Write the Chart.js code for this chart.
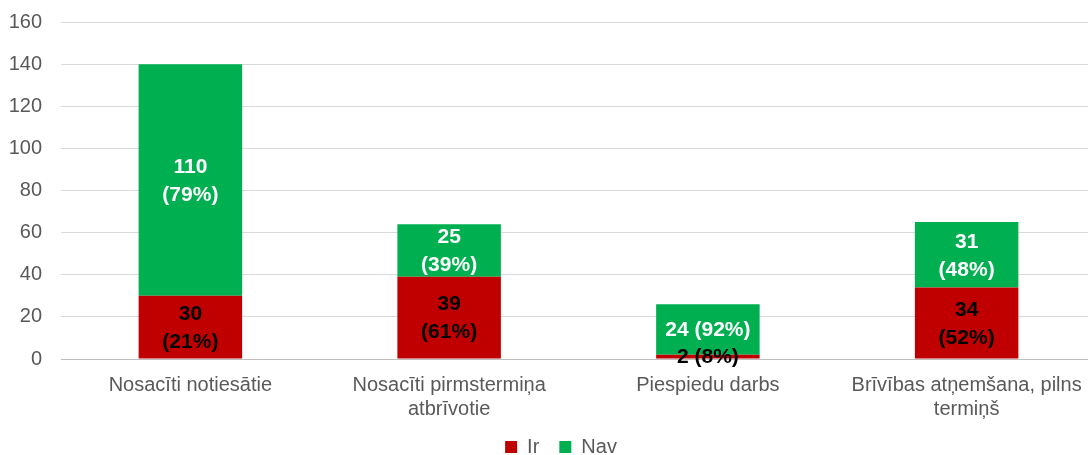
<!DOCTYPE html>
<html>
<head>
<meta charset="utf-8">
<script src="https://cdn.jsdelivr.net/npm/chart.js@4/dist/chart.umd.min.js"></script>
<style>
html,body{margin:0;padding:0;overflow:hidden;background:#fff;}
#wrap{width:1088px;height:455px;overflow:hidden;}
canvas{display:block;}
</style>
</head>
<body>
<div id="wrap"><canvas id="c" width="1120" height="455"></canvas></div>
<script>
const categories = [
  ["Nosacīti notiesātie"],
  ["Nosacīti pirmstermiņa", "atbrīvotie"],
  ["Piespiedu darbs"],
  ["Brīvības atņemšana, pilns", "termiņš"]
];
const seriesNames = ["Ir", "Nav"];
const irValues = [30, 39, 2, 34];
const navValues = [110, 25, 24, 31];
const yTicks = [0, 20, 40, 60, 80, 100, 120, 140, 160];
const wrapLabels = [true, true, false, true];

const RED = '#C00000', GREEN = '#00B050';
const FONT = "'Liberation Sans', Arial, sans-serif";

const totals = irValues.map((v, i) => v + navValues[i]);

const labelPlugin = {
  id: 'segLabels',
  afterDatasetsDraw(chart) {
    const ctx = chart.ctx;
    ctx.save();
    ctx.font = "bold 21px " + FONT;
    ctx.textAlign = 'center';
    ctx.textBaseline = 'middle';
    chart.data.datasets.forEach((ds, di) => {
      const meta = chart.getDatasetMeta(di);
      meta.data.forEach((el, i) => {
        const v = ds.data[i];
        const pct = Math.round(v / totals[i] * 100);
        const lines = wrapLabels[i] ? [String(v), '(' + pct + '%)'] : [v + ' (' + pct + '%)'];
        const cy = (el.y + el.base) / 2;
        const lh = 28;
        ctx.fillStyle = ds.labelColor;
        lines.forEach((t, k) => {
          ctx.fillText(t, el.x, cy + (k - (lines.length - 1) / 2) * lh + 1);
        });
      });
    });
    ctx.restore();
  }
};

// place the legend where the reference has it
const legendPlace = {
  id: 'legendPlace',
  afterLayout(chart) {
    const lg = chart.legend;
    if (!lg) return;
    const dx = 13;
    const dy = 417 - lg.top;
    lg.left += dx; lg.right += dx;
    lg.top += dy; lg.bottom += dy;
    if (lg.legendHitBoxes) lg.legendHitBoxes.forEach(h => { h.left += dx; h.top += dy; });
  }
};

new Chart(document.getElementById('c'), {
  type: 'bar',
  data: {
    labels: categories,
    datasets: [
      { label: seriesNames[0], data: irValues, backgroundColor: RED, labelColor: '#000000',
        barPercentage: 0.4, categoryPercentage: 1.0 },
      { label: seriesNames[1], data: navValues, backgroundColor: GREEN, labelColor: '#ffffff',
        barPercentage: 0.4, categoryPercentage: 1.0 }
    ]
  },
  options: {
    responsive: false,
    animation: false,
    devicePixelRatio: 1,
    layout: { padding: { top: 22, right: 24, left: 0, bottom: -30 } },
    plugins: {
      title: { display: false },
      tooltip: { enabled: false },
      legend: {
        position: 'bottom',
        labels: {
          boxWidth: 12, boxHeight: 12, padding: 20,
          color: '#595959',
          font: { family: FONT, size: 20 }
        }
      }
    },
    scales: {
      x: {
        stacked: true,
        grid: { display: false, drawTicks: false },
        border: { display: true, color: '#bfbfbf', width: 1 },
        ticks: { color: '#595959', font: { family: FONT, size: 20 }, padding: 14, maxRotation: 0, autoSkip: false }
      },
      y: {
        stacked: true,
        min: 0, max: 160,
        afterBuildTicks(scale) { scale.ticks = yTicks.map(v => ({ value: v })); },
        afterFit(scale) { scale.width = 61; scale.paddingTop = 0; scale.paddingBottom = 0; },
        grid: { color: '#d9d9d9', lineWidth: 1, drawTicks: false },
        border: { display: false },
        ticks: { color: '#595959', font: { family: FONT, size: 20 }, padding: 19 }
      }
    }
  },
  plugins: [labelPlugin, legendPlace]
});
</script>
</body>
</html>
